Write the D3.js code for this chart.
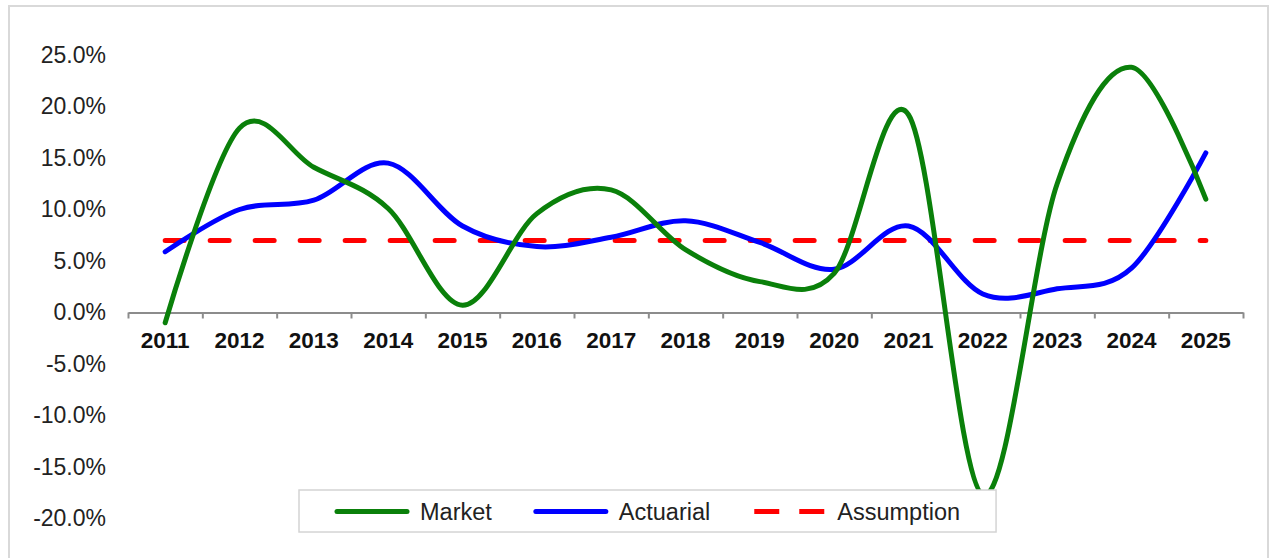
<!DOCTYPE html>
<html>
<head>
<meta charset="utf-8">
<script src="https://cdn.jsdelivr.net/npm/d3@7/dist/d3.min.js"></script>
<style>
  html, body { margin: 0; padding: 0; background: #ffffff; }
  svg { display: block; }
  text { font-family: "Liberation Sans", Arial, sans-serif; }
</style>
</head>
<body>
<svg id="chart" width="1270" height="558"></svg>
<script>
// Annual returns by plan year (percent)
const years = ["2011","2012","2013","2014","2015","2016","2017","2018","2019","2020","2021","2022","2023","2024","2025"];
const marketReturns    = [-1.0, 17.9, 14.1, 10.1, 0.7, 9.6, 11.9, 6.1, 3.0, 3.8, 19.2, -17.7, 12.5, 23.8, 11.0];
const actuarialReturns = [5.9, 10.0, 10.9, 14.5, 8.4, 6.4, 7.3, 8.9, 6.8, 4.2, 8.4, 1.8, 2.3, 4.3, 15.5];
const assumedReturns   = [7.0, 7.0, 7.0, 7.0, 7.0, 7.0, 7.0, 7.0, 7.0, 7.0, 7.0, 7.0, 7.0, 7.0, 7.0];
const yTickValues = [-20, -15, -10, -5, 0, 5, 10, 15, 20, 25];
const seriesNames = ["Market", "Actuarial", "Assumption"];

const svg = d3.select("#chart");

// Outer chart frame
svg.append("rect")
  .attr("x", 9).attr("y", 6)
  .attr("width", 1259).attr("height", 570)
  .attr("fill", "#ffffff")
  .attr("stroke", "#d9d9d9").attr("stroke-width", 2);

const plot = { left: 128, right: 1243 };

const x = d3.scaleBand().domain(years).range([plot.left, plot.right]).paddingInner(0).paddingOuter(0);
const xEdges = d3.scaleLinear().domain([0, years.length]).range([plot.left, plot.right]);
const y = d3.scaleLinear().domain([-20, 25]).range([518.5, 55]);

const cx = d => x(d) + x.bandwidth() / 2;

// Y axis labels (no axis line)
const yAxis = svg.append("g")
  .attr("transform", "translate(106,0)")
  .call(d3.axisLeft(y).tickValues(yTickValues).tickSize(0).tickPadding(0)
    .tickFormat(d => d.toFixed(1) + "%"));
yAxis.select(".domain").remove();
yAxis.selectAll("text")
  .attr("font-size", "23px")
  .attr("fill", "#222")
  .attr("font-family", "'Liberation Sans', Arial, sans-serif");

// Category axis crossing at zero, ticks between categories
const x0 = y(0);
const xTicks = svg.append("g")
  .attr("transform", `translate(0,${x0})`)
  .call(d3.axisBottom(xEdges).tickValues(d3.range(0, years.length + 1)).tickSize(6).tickSizeOuter(0).tickFormat(""));
xTicks.select(".domain").attr("stroke", "#8c8c8c").attr("stroke-width", 2);
xTicks.selectAll(".tick line").attr("stroke", "#8c8c8c").attr("stroke-width", 2);

const xLabels = svg.append("g")
  .attr("transform", `translate(0,${x0})`)
  .call(d3.axisBottom(x).tickSize(0).tickPadding(0));
xLabels.select(".domain").remove();
xLabels.selectAll("text")
  .attr("y", 35).attr("dy", 0)
  .attr("font-size", "22.5px")
  .attr("font-weight", "bold")
  .attr("fill", "#111")
  .attr("font-family", "'Liberation Sans', Arial, sans-serif");

// Series lines
const smooth = d3.line()
  .x((d, i) => cx(years[i]))
  .y(d => y(d))
  .curve(d3.curveCardinal.tension(0));

const straight = d3.line()
  .x((d, i) => cx(years[i]))
  .y(d => y(d));

const series = [
  { name: seriesNames[2], values: assumedReturns, color: "#ff0000", dash: "19 26", gen: straight },
  { name: seriesNames[1], values: actuarialReturns, color: "#0000ff", dash: null, gen: smooth },
  { name: seriesNames[0], values: marketReturns, color: "#0a800a", dash: null, gen: smooth }
];

svg.append("g").selectAll("path")
  .data(series)
  .join("path")
  .attr("d", s => s.gen(s.values))
  .attr("fill", "none")
  .attr("stroke", s => s.color)
  .attr("stroke-width", 5)
  .attr("stroke-linecap", "round")
  .attr("stroke-linejoin", "round")
  .attr("stroke-dasharray", s => s.dash);

// Legend
const legendItems = [series[2], series[1], series[0]];
const legend = svg.append("g");
const box = legend.append("rect")
  .attr("y", 490).attr("height", 42)
  .attr("fill", "#ffffff")
  .attr("stroke", "#d4d4d4").attr("stroke-width", 1.5);

let cursor = 337;
const lineLen = 70, legendY = 511.5, itemGap = 44;
legendItems.forEach(s => {
  legend.append("line")
    .attr("x1", cursor).attr("x2", cursor + lineLen)
    .attr("y1", legendY).attr("y2", legendY)
    .attr("stroke", s.color).attr("stroke-width", 5)
    .attr("stroke-linecap", s.dash ? "butt" : "round")
    .attr("stroke-dasharray", s.dash ? "25 20" : null);
  const t = legend.append("text")
    .attr("x", cursor + lineLen + 13)
    .attr("y", legendY)
    .attr("dy", "0.35em")
    .attr("font-size", "23.5px")
    .attr("fill", "#222")
    .text(s.name);
  cursor = cursor + lineLen + 13 + t.node().getComputedTextLength() + itemGap;
});
box.attr("x", 299).attr("width", (cursor - itemGap + 36) - 299);
</script>
</body>
</html>
